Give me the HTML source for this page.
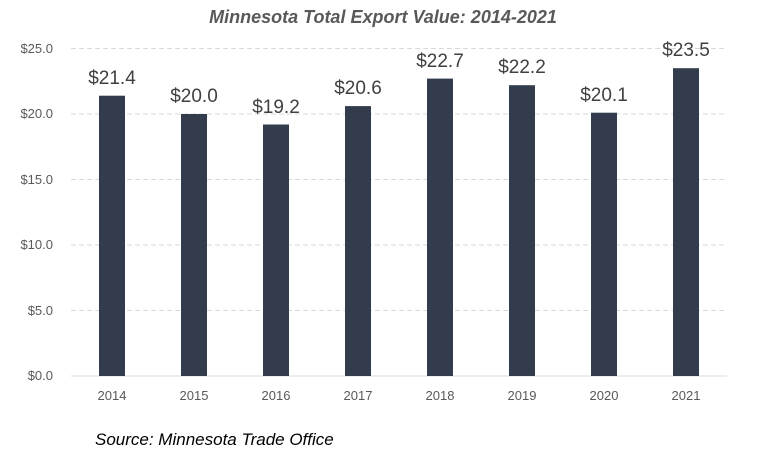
<!DOCTYPE html>
<html><head><style>body{margin:0;background:#fff}svg{display:block}</style></head><body>
<svg width="766" height="466" xmlns="http://www.w3.org/2000/svg" font-family="Liberation Sans, sans-serif">
<rect width="766" height="466" fill="#fff"/>
<text x="383" y="23" text-anchor="middle" font-size="18" font-weight="bold" font-style="italic" fill="#595959">Minnesota Total Export Value: 2014-2021</text>
<g stroke="#d9d9d9" stroke-width="1" stroke-dasharray="5,3">
<line x1="71" x2="727" y1="48.5" y2="48.5"/>
<line x1="71" x2="727" y1="114" y2="114"/>
<line x1="71" x2="727" y1="179.5" y2="179.5"/>
<line x1="71" x2="727" y1="245" y2="245"/>
<line x1="71" x2="727" y1="310.5" y2="310.5"/>
</g>
<line x1="71" x2="727" y1="376" y2="376" stroke="#d9d9d9"/>
<g font-size="13" fill="#595959" text-anchor="end">
<text x="53" y="53">$25.0</text><text x="53" y="118">$20.0</text><text x="53" y="184">$15.0</text>
<text x="53" y="249">$10.0</text><text x="53" y="315">$5.0</text><text x="53" y="380">$0.0</text>
</g>
<g fill="#333c4c">
<rect x="99" y="95.7" width="26" height="280.3"/>
<rect x="181" y="114" width="26" height="262"/>
<rect x="263" y="124.5" width="26" height="251.5"/>
<rect x="345" y="106.1" width="26" height="269.9"/>
<rect x="427" y="78.6" width="26" height="297.4"/>
<rect x="509" y="85.2" width="26" height="290.8"/>
<rect x="591" y="112.7" width="26" height="263.3"/>
<rect x="673" y="68.2" width="26" height="307.8"/>
</g>
<g font-size="19" fill="#404040" text-anchor="middle">
<text x="112" y="84">$21.4</text><text x="194" y="102">$20.0</text><text x="276" y="113">$19.2</text>
<text x="358" y="94">$20.6</text><text x="440" y="67">$22.7</text><text x="522" y="73">$22.2</text>
<text x="604" y="101">$20.1</text><text x="686" y="56">$23.5</text>
</g>
<g font-size="13" fill="#595959" text-anchor="middle">
<text x="112" y="400">2014</text><text x="194" y="400">2015</text><text x="276" y="400">2016</text>
<text x="358" y="400">2017</text><text x="440" y="400">2018</text><text x="522" y="400">2019</text>
<text x="604" y="400">2020</text><text x="686" y="400">2021</text>
</g>
<text x="95" y="445" font-size="17" font-style="italic" fill="#000">Source: Minnesota Trade Office</text>
</svg>
</body></html>
